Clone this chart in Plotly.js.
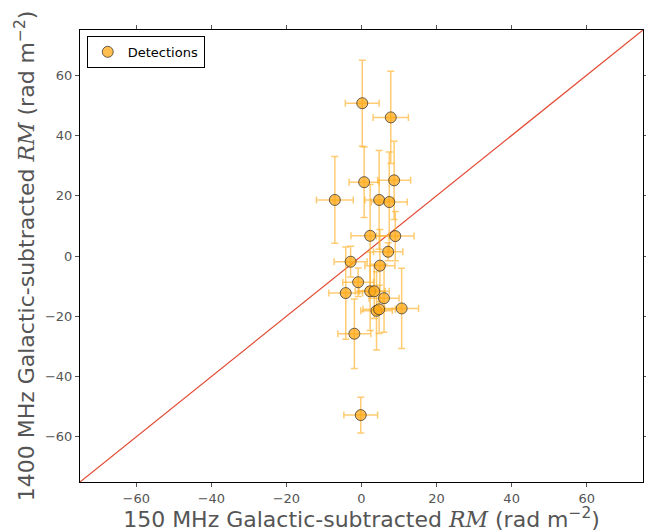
<!DOCTYPE html>
<html>
<head>
<meta charset="utf-8">
<script src="https://cdn.plot.ly/plotly-3.0.1.min.js"></script>
<style>
  html, body { margin: 0; padding: 0; background: #ffffff; }
  #chart { width: 646px; height: 532px; }
</style>
</head>
<body>
<div id="chart"></div>
<script>
// Rotation measures (rad m^-2), Galactic foreground removed
const rm150     = [0.2, 7.8, -7.1, 0.7, 8.7, 4.7, 7.4, 2.3, 9.0, 7.1, -2.9, 4.9, -0.9, -4.2, 2.3, 3.4, 6.0, 10.7, 4.0, 4.7, -1.9, -0.2];
const rm150Err  = [4.5, 4.7, 4.9, 4.0, 4.4, 3.8, 4.8, 5.1, 5.0, 3.9, 4.4, 4.0, 4.1, 4.5, 4.0, 4.0, 4.0, 4.5, 4.2, 4.3, 4.4, 4.5];
const rm1400    = [50.7, 46.0, 18.6, 24.5, 25.1, 18.6, 17.9, 6.7, 6.6, 1.4, -1.9, -3.2, -8.7, -12.3, -11.7, -11.7, -14.0, -17.4, -18.2, -17.7, -25.8, -52.8];
const rm1400Err = [14.3, 15.3, 14.4, 11.7, 13.0, 16.4, 16.6, 17.0, 8.2, 3.0, 5.1, 12.0, 4.7, 15.3, 13.0, 9.0, 11.3, 13.3, 13.0, 8.0, 11.5, 5.9];

// One-to-one reference line and axis limits
const oneToOne = [-75, 75];
const tickVals = [-60, -40, -20, 0, 20, 40, 60];

const errStyle = { type: 'data', color: 'rgba(255,176,40,0.65)', thickness: 1.5, width: 3.5 };

const traces = [
  {
    x: oneToOne, y: oneToOne,
    mode: 'lines',
    line: { color: '#e24a33', width: 1.2 },
    showlegend: false,
    hoverinfo: 'skip'
  },
  {
    x: rm150, y: rm1400,
    mode: 'markers',
    name: 'Detections',
    marker: {
      size: 11,
      color: 'rgba(255,168,20,0.75)',
      line: { color: 'rgba(50,50,50,0.75)', width: 1 }
    },
    error_x: Object.assign({ array: rm150Err }, errStyle),
    error_y: Object.assign({ array: rm1400Err }, errStyle)
  }
];

const axisCommon = {
  range: oneToOne,
  tickvals: tickVals,
  showgrid: false,
  zeroline: false,
  showline: true,
  linecolor: '#000000',
  linewidth: 1,
  mirror: 'ticks',
  ticks: 'outside',
  ticklen: 4,
  tickcolor: '#555555',
  tickfont: { family: 'DejaVu Sans', size: 13, color: '#555555' }
};

const rmSym = '<span style="font-family:\'DejaVu Serif\';font-style:italic">RM</span>';
const titleFont = { family: 'DejaVu Sans', size: 22, color: '#555555' };

const layout = {
  width: 646,
  height: 532,
  paper_bgcolor: '#ffffff',
  plot_bgcolor: '#ffffff',
  margin: { l: 80, r: 3, t: 30, b: 50 },
  showlegend: true,
  legend: {
    x: 0.012, y: 0.987, xanchor: 'left', yanchor: 'top',
    bgcolor: '#ffffff', bordercolor: '#000000', borderwidth: 1,
    font: { family: 'DejaVu Sans', size: 13, color: '#000000' }
  },
  xaxis: Object.assign({}, axisCommon, {
    title: {
      text: '150 MHz Galactic-subtracted ' + rmSym + ' (rad m<sup>−2</sup>)',
      font: titleFont,
      standoff: 2
    }
  }),
  yaxis: Object.assign({}, axisCommon, {
    title: {
      text: '1400 MHz Galactic-subtracted ' + rmSym + ' (rad m<sup>−2</sup>)',
      font: titleFont,
      standoff: 4
    }
  })
};

Plotly.newPlot('chart', traces, layout, { displayModeBar: false, staticPlot: true });
</script>
</body>
</html>
